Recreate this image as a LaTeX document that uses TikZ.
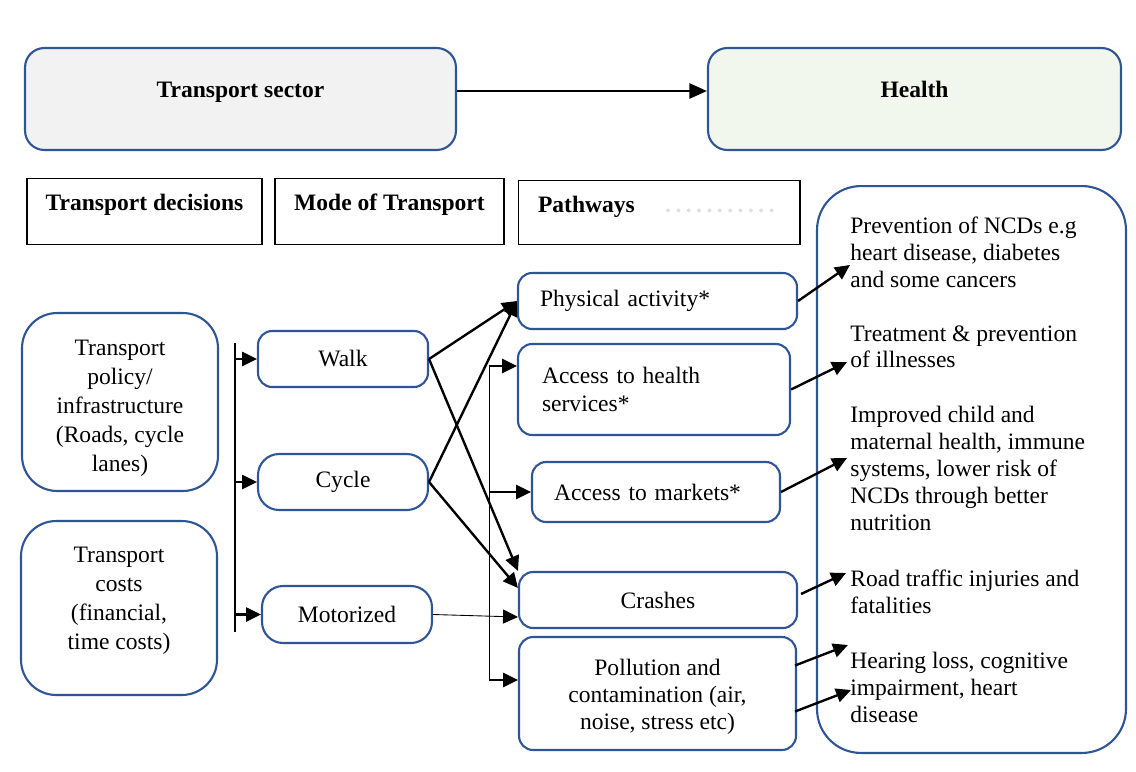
\documentclass[tikz,border=0pt]{standalone}
\usepackage{fontspec}
\setmainfont{Liberation Serif}
\usepackage{xcolor}
\usepackage{tikz}
\usetikzlibrary{arrows.meta, positioning, calc}
\definecolor{boxblue}{HTML}{2F5597}
\definecolor{sectgray}{HTML}{F2F2F2}
\definecolor{healthgreen}{HTML}{F1F7ED}

\begin{document}
\begin{tikzpicture}[x=0.02cm, y=-0.02cm,
    box/.style={rectangle, draw=boxblue, line width=1.2pt, rounded corners=8pt,
                align=center, inner sep=0pt, font=\fontsize{13.4}{15.5}\selectfont},
    head/.style={rectangle, draw=black, line width=0.6pt, anchor=north,
                 font=\fontsize{13.4}{15.5}\selectfont\bfseries,
                 text height=0.44cm, text depth=0.48cm, inner ysep=0.2cm},
    note/.style={anchor=north west, align=left, inner sep=0pt,
                 font=\fontsize{13.4}{15.3}\selectfont},
    arrow/.style={-{Triangle[length=8.5pt,width=8pt]}, line width=1.35pt},
    thinarrow/.style={-{Triangle[length=8.5pt,width=8pt]}, line width=0.5pt}]

\useasboundingbox (0,0) rectangle (1136,771);

\node[box, fill=sectgray, minimum width=8.62cm, minimum height=2.04cm, rounded corners=11pt,
      font=\fontsize{13.4}{15.5}\selectfont\bfseries, text height=0.35cm, text depth=0.43cm] (sector) at (240.5,99) {Transport sector};
\node[box, fill=healthgreen, minimum width=8.26cm, minimum height=2.04cm, rounded corners=11pt,
      font=\fontsize{13.4}{15.5}\selectfont\bfseries, text height=0.35cm, text depth=0.43cm] (health) at (914.5,99) {Health};

\node[head, minimum width=4.7cm] (decisions) at (144.5,178) {Transport decisions};
\node[head, minimum width=4.58cm] (mode) at (389.5,178) {Mode of Transport};
\node[head, align=left, inner xsep=0.4cm, text width=4.84cm, text depth=0.44cm] (pathways) at (659,180)
    {Pathways\hspace{0.5cm}\textcolor{black!12}{\dotfill}};

\node[box, minimum width=3.92cm, minimum height=3.56cm, rounded corners=20pt,
      font=\fontsize{13.4}{16.4}\selectfont] (policy) at (120,402)
    {\rule{0pt}{16pt}Transport\\policy/\\infrastructure\\(Roads, cycle\\lanes)};
\node[box, minimum width=3.92cm, minimum height=3.48cm, rounded corners=20pt,
      font=\fontsize{13.4}{16.4}\selectfont] (costs) at (119,608)
    {Transport\\costs\\(financial,\\time costs)\rule[-11pt]{0pt}{0pt}};

\node[box, minimum width=3.4cm, minimum height=1.12cm] (walk) at (343,359) {Walk};
\node[box, minimum width=3.4cm, minimum height=1.12cm, rounded corners=12pt] (cycle) at (343,482) {Cycle};
\node[box, minimum width=3.4cm, minimum height=1.14cm, rounded corners=12pt] (motor) at (347,614.5) {Motorized};

\node[box, align=left, inner xsep=0.44cm, text width=4.7cm, minimum height=1.12cm] (physical) at (657.5,301) {Physical activity*};
\node[box, align=left, inner xsep=0.48cm, text width=4.48cm, minimum height=1.82cm] (acchealth) at (654,389.5) {Access to health\\services*};
\node[box, align=left, inner xsep=0.44cm, text width=4.08cm, minimum height=1.2cm] (accmkt) at (656,492) {Access to markets*};
\node[box, minimum width=5.56cm, minimum height=1.12cm] (crashes) at (658,600) {Crashes};
\node[box, minimum width=5.54cm, minimum height=2.26cm] (pollution) at (657.5,693.5)
    {\rule{0pt}{13pt}Pollution and\\contamination (air,\\noise, stress etc)};

\node[box, minimum width=6.18cm, minimum height=11.34cm, rounded corners=25pt] (outcomes) at (971.5,469.5) {};
\node[note] (ncd) at (850,217) {Prevention of NCDs e.g\\heart disease, diabetes\\and some cancers};
\node[note] (treat) at (850,325) {Treatment \& prevention\\of illnesses};
\node[note] (nutrition) at (850,406) {Improved child and\\maternal health, immune\\systems, lower risk of\\NCDs through better\\nutrition};
\node[note] (injury) at (850,570) {Road traffic injuries and\\fatalities};
\node[note] (hearing) at (850,652) {Hearing loss, cognitive\\impairment, heart\\disease};

\draw[arrow, line width=1.6pt, -{Triangle[length=10pt,width=8.5pt]}] ($(sector.east)+(0,-8)$) -- ($(health.west)+(0,-8)$);

\coordinate (bartop) at (235,343);
\coordinate (barbot) at (235,632);
\draw[line width=1.35pt] (bartop) -- (barbot);
\foreach \m in {walk, cycle, motor}
    \draw[arrow] (bartop |- \m.west) -- (\m.west);

\draw[arrow] (walk.east) -- (physical.west);
\draw[arrow] (walk.east) -- (crashes.north west);
\draw[arrow] (cycle.east) -- (physical.west);
\draw[arrow] (cycle.east) -- ($(crashes.west)+(0,-12)$);
\draw[thinarrow] (motor.east) -- ($(crashes.west)+(0,17)$);

\coordinate (bustop) at (489,366);
\coordinate (busbot) at (489,680);
\draw[line width=0.5pt] (bustop) -- (busbot);
\draw[arrow] (bustop) -- (bustop -| acchealth.west);
\draw[arrow] (bustop |- accmkt.west) -- (accmkt.west);
\draw[arrow] (busbot) -- (busbot -| pollution.west);

\draw[arrow] (physical.east) -- ($(ncd.north west)+(0,48)$);
\draw[arrow] (acchealth.east) -- ($(treat.north west)+(-3,37)$);
\draw[arrow] (accmkt.east) -- ($(nutrition.north west)+(-3,52)$);
\draw[arrow] ($(crashes.east)+(3,-6)$) -- ($(injury.north west)+(-4,3)$);
\draw[arrow] ($(pollution.east)+(-2,-28)$) -- ($(hearing.north west)+(-2,-7)$);
\draw[arrow] ($(pollution.east)+(-2,18)$) -- ($(hearing.north west)+(1,38)$);
\end{tikzpicture}
\end{document}
